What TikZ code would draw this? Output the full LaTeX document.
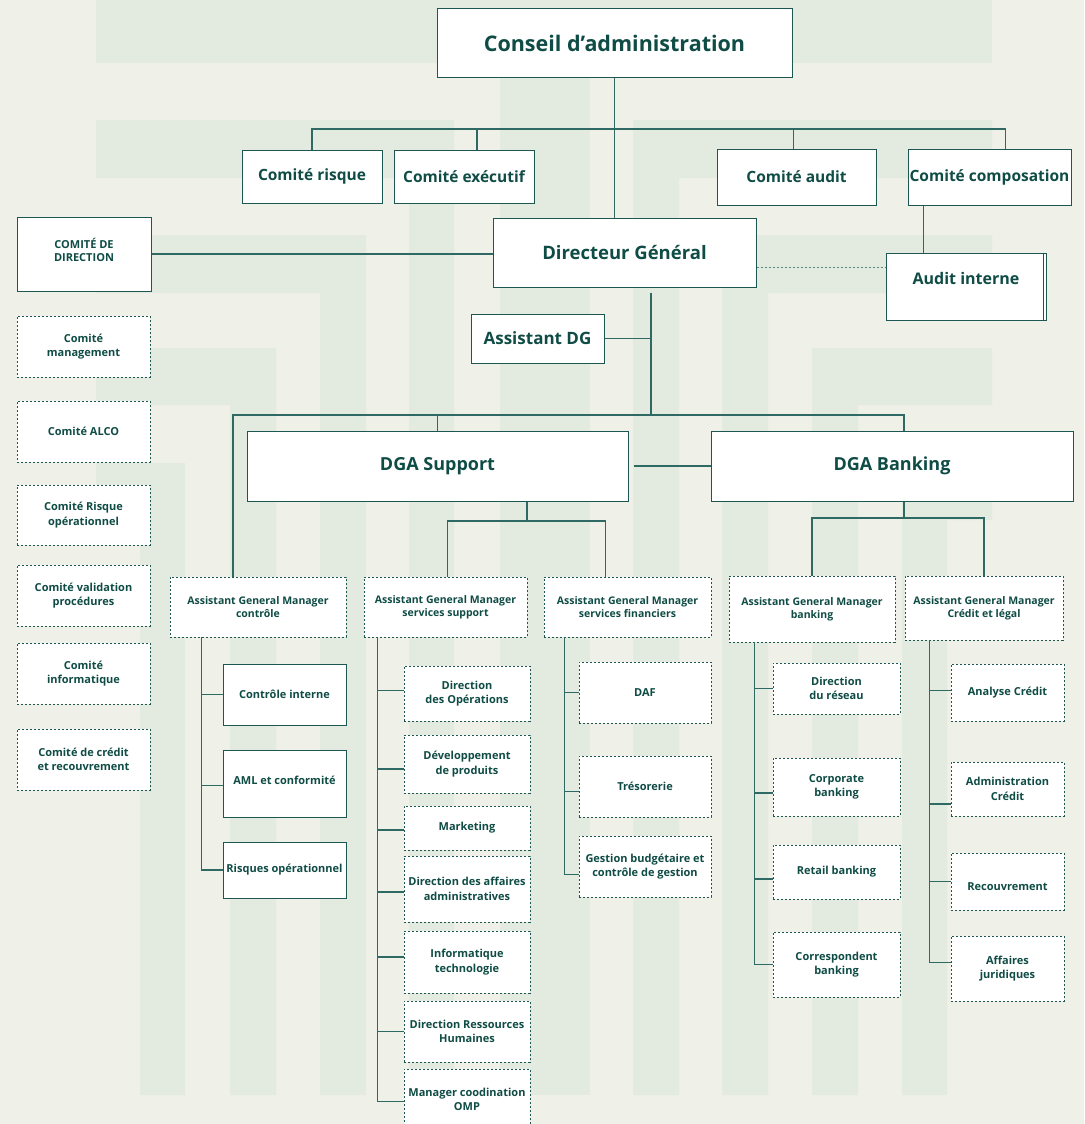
\documentclass[tikz,border=0pt]{standalone}
\usepackage{fontspec}
\setmainfont{Open Sans}
\definecolor{bgc}{HTML}{EFF0E8}
\definecolor{bandc}{HTML}{E3EAE0}
\definecolor{txtc}{HTML}{0F4C45}
\definecolor{boxc}{HTML}{1C5751}
\definecolor{linec}{HTML}{2E6A63}
\begin{document}
\begin{tikzpicture}[x=1pt,y=-1pt,
    box/.style={draw=boxc,fill=white,line width=1pt,align=center,text=txtc,inner sep=1pt},
    dbox/.style={box,dash pattern=on 2.4pt off 1.6pt,line width=0.9pt},
    link/.style={draw=linec,line width=1.1pt},
    fbig/.style={font=\bfseries\fontsize{21.5}{25}\selectfont},
    fmid/.style={font=\bfseries\fontsize{15.5}{18}\selectfont},
    fsmall/.style={font=\bfseries\fontsize{11}{14.5}\selectfont},
    ftiny/.style={font=\bfseries\fontsize{10.5}{13}\selectfont}]
  \useasboundingbox (0,0) rectangle (1084,1124);
  % fond et motif
  \fill[bgc] (0,0) rectangle (1084,1124);
  \fill[bandc] (96,0) rectangle (992,63);
  \fill[bandc] (500,63) rectangle (590,1095);
  \fill[bandc] (96,120) rectangle (454,178) (409,178) rectangle (454,1095);
  \fill[bandc] (96,235) rectangle (366,293) (320,293) rectangle (366,1095);
  \fill[bandc] (96,348) rectangle (276,405) (230,405) rectangle (276,1095);
  \fill[bandc] (96,463) rectangle (185,520) (140,520) rectangle (185,1095);
  \fill[bandc] (633,120) rectangle (992,178) (633,178) rectangle (679,1095);
  \fill[bandc] (722,235) rectangle (992,293) (722,293) rectangle (768,1095);
  \fill[bandc] (812,348) rectangle (992,405) (812,405) rectangle (858,1095);
  \fill[bandc] (902,463) rectangle (992,520) (902,520) rectangle (947,1095);

  % conseil et comites
  \node[box,fbig,minimum width=355pt,minimum height=68pt] (conseil) at (614.5,43) {Conseil d’administration};
  \node[box,fmid,minimum width=140pt,minimum height=53pt] (risque) at (312,176.5) {Comité risque};
  \node[box,fmid,minimum width=140pt,minimum height=53pt] (executif) at (464,176.5) {Comité exécutif};
  \node[box,fmid,minimum width=159pt,minimum height=56pt] (audit) at (796.5,177) {Comité audit};
  \node[box,fmid,minimum width=163pt,minimum height=56pt] (compo) at (989.5,177) {Comité composation};

  % direction generale
  \node[box,font=\bfseries\fontsize{18.5}{22}\selectfont,minimum width=263pt,minimum height=69pt] (directeur) at (624.5,252.5) {Directeur Général};
  \node[box,font=\bfseries\fontsize{11}{13}\selectfont,minimum width=134pt,minimum height=74pt,text depth=8pt] (codir) at (84,254) {COMITÉ DE\\DIRECTION};
  \node[box,font=\bfseries\fontsize{16}{19}\selectfont,minimum width=160pt,minimum height=67pt,text depth=16pt] (auditint) at (966,286.5) {Audit interne};
  \node[box,font=\bfseries\fontsize{17}{20}\selectfont,minimum width=133pt,minimum height=49pt] (adg) at (537.5,338.5) {Assistant DG};

  % comites de direction
  \node[dbox,fsmall,minimum width=133pt,minimum height=61pt] (cmgt) at (83.5,346.5) {Comité\\management};
  \node[dbox,fsmall,minimum width=133pt,minimum height=61pt] (calco) at (83.5,431.5) {Comité ALCO};
  \node[dbox,fsmall,minimum width=133pt,minimum height=60pt] (crop) at (83.5,515) {Comité Risque\\opérationnel};
  \node[dbox,fsmall,minimum width=133pt,minimum height=61pt] (cval) at (83.5,595.5) {Comité validation\\procédures};
  \node[dbox,fsmall,minimum width=133pt,minimum height=61pt] (cinfo) at (83.5,673.5) {Comité\\informatique};
  \node[dbox,fsmall,minimum width=133pt,minimum height=61pt] (ccred) at (83.5,759.5) {Comité de crédit\\et recouvrement};

  % DGA
  \node[box,font=\bfseries\fontsize{18}{21}\selectfont,minimum width=381pt,minimum height=70pt] (support) at (437.5,466) {DGA Support};
  \node[box,font=\bfseries\fontsize{18}{21}\selectfont,minimum width=362pt,minimum height=70pt] (banking) at (892,466) {DGA Banking};

  % assistants general manager
  \node[dbox,ftiny,minimum width=176pt,minimum height=60pt] (agmctl) at (258,607) {Assistant General Manager\\contrôle};
  \node[dbox,ftiny,minimum width=163pt,minimum height=60pt] (agmsup) at (445.5,607) {Assistant General Manager\\services support};
  \node[dbox,ftiny,minimum width=167pt,minimum height=60pt] (agmfin) at (627.5,607) {Assistant General Manager\\services financiers};
  \node[dbox,ftiny,minimum width=166pt,minimum height=66pt] (agmbank) at (812,609) {Assistant General Manager\\banking};
  \node[dbox,ftiny,minimum width=158pt,minimum height=64pt] (agmcred) at (984,608) {Assistant General Manager\\Crédit et légal};

  % controle
  \node[box,fsmall,minimum width=123pt,minimum height=61pt] (ctlint) at (284.5,694.5) {Contrôle interne};
  \node[box,fsmall,minimum width=123pt,minimum height=67pt,text depth=6pt] (aml) at (284.5,783.5) {AML et conformité};
  \node[box,fsmall,minimum width=123pt,minimum height=56pt] (risqop) at (284.5,870) {Risques opérationnel};

  % services support
  \node[dbox,fsmall,minimum width=126pt,minimum height=55pt] (dirop) at (467,693.5) {Direction\\des Opérations};
  \node[dbox,fsmall,minimum width=126pt,minimum height=58pt] (devprod) at (467,764) {Développement\\de produits};
  \node[dbox,fsmall,minimum width=126pt,minimum height=44pt] (mkt) at (467,828) {Marketing};
  \node[dbox,fsmall,minimum width=126pt,minimum height=66pt] (daa) at (467,889) {Direction des affaires\\administratives};
  \node[dbox,fsmall,minimum width=126pt,minimum height=62pt] (infotech) at (467,962) {Informatique\\technologie};
  \node[dbox,fsmall,minimum width=126pt,minimum height=61pt] (drh) at (467,1031.5) {Direction Ressources\\Humaines};
  \node[dbox,fsmall,minimum width=126pt,minimum height=65pt,text depth=4pt] (omp) at (467,1101.5) {Manager coodination\\OMP};

  % services financiers
  \node[dbox,fsmall,minimum width=132pt,minimum height=61pt] (daf) at (645,692.5) {DAF};
  \node[dbox,fsmall,minimum width=132pt,minimum height=61pt] (treso) at (645,786.5) {Trésorerie};
  \node[dbox,fsmall,minimum width=132pt,minimum height=61pt] (budget) at (645,866.5) {Gestion budgétaire et\\contrôle de gestion};

  % banking
  \node[dbox,fsmall,minimum width=127pt,minimum height=51pt] (reseau) at (836.5,688.5) {Direction\\du réseau};
  \node[dbox,fsmall,minimum width=127pt,minimum height=58pt] (corpo) at (836.5,787) {Corporate\\banking};
  \node[dbox,fsmall,minimum width=127pt,minimum height=54pt] (retail) at (836.5,872) {Retail banking};
  \node[dbox,fsmall,minimum width=127pt,minimum height=65pt] (corresp) at (836.5,964.5) {Correspondent\\banking};

  % credit et legal
  \node[dbox,fsmall,minimum width=113pt,minimum height=57pt] (analyse) at (1007.5,692.5) {Analyse Crédit};
  \node[dbox,fsmall,minimum width=113pt,minimum height=54pt] (admcred) at (1007.5,789) {Administration\\Crédit};
  \node[dbox,fsmall,minimum width=113pt,minimum height=57pt,text height=18pt] (recouv) at (1007.5,881.5) {Recouvrement};
  \node[dbox,fsmall,minimum width=113pt,minimum height=65pt] (affjur) at (1007.5,968.5) {Affaires\\juridiques};

  % liaisons du haut
  \coordinate (bushaut) at (614,129);
  \coordinate (busdg) at (651,415);
  \coordinate (bussup) at (527,521);
  \coordinate (busbank) at (904,518);
  \draw[link] (conseil.south) -- (conseil.south |- directeur.north);
  \draw[link] (risque.north) |- (bushaut) -| ([xshift=16pt]compo.north);
  \draw[link] ([xshift=13pt]executif.north) -- ([xshift=13pt]executif.north |- bushaut);
  \draw[link] ([xshift=-3pt]audit.north) -- ([xshift=-3pt]audit.north |- bushaut);
  \draw[link] ([xshift=16pt]compo.south west) -- ([xshift=16pt]compo.south west |- auditint.north);
  \draw[boxc,line width=1pt] ([xshift=-3pt]auditint.north east) -- ([xshift=-3pt]auditint.south east);
  \draw[link,line width=0.9pt,dash pattern=on 2pt off 2pt,draw=linec!80] ([yshift=-15pt]directeur.east) -- ([yshift=-15pt]directeur.east -| auditint.west);
  \draw[link] (codir.east) -- (codir.east -| directeur.west);
  \draw[link] ([yshift=-5pt]directeur.south -| busdg) -- (busdg);
  \draw[link] (adg.east) -- (adg.east -| busdg);
  \draw[link] ([xshift=-25pt]agmctl.north) |- (busdg) -| ([xshift=12pt]banking.north);
  \draw[link] (support.north) -- (support.north |- busdg);
  \draw[link] ([xshift=5pt]support.east) -- (banking.west);

  % liaisons des DGA
  \draw[link] (support.south -| bussup) -- (bussup);
  \draw[link] ([xshift=2pt]agmsup.north) |- (bussup) -| ([xshift=-22pt]agmfin.north);
  \draw[link] (banking.south -| busbank) -- (busbank);
  \draw[link] (agmbank.north) |- (busbank) -| (agmcred.north);

  % branches
  \draw[link] ([xshift=32pt]agmctl.south west) |- (ctlint.west);
  \draw[link] ([xshift=32pt]agmctl.south west) |- ([yshift=-2pt]aml.west);
  \draw[link] ([xshift=32pt]agmctl.south west) |- (risqop.west);
  \draw[link] ([xshift=14pt]agmsup.south west) |- ([yshift=3pt]dirop.west);
  \draw[link] ([xshift=14pt]agmsup.south west) |- ([yshift=-5pt]devprod.west);
  \draw[link] ([xshift=14pt]agmsup.south west) |- ([yshift=-2pt]mkt.west);
  \draw[link] ([xshift=14pt]agmsup.south west) |- ([yshift=-3pt]daa.west);
  \draw[link] ([xshift=14pt]agmsup.south west) |- ([yshift=5pt]infotech.west);
  \draw[link] ([xshift=14pt]agmsup.south west) |- (drh.west);
  \draw[link] ([xshift=14pt]agmsup.south west) |- (omp.west);
  \draw[link] ([xshift=21pt]agmfin.south west) |- (daf.west);
  \draw[link] ([xshift=21pt]agmfin.south west) |- ([yshift=-5pt]treso.west);
  \draw[link] ([xshift=21pt]agmfin.south west) |- ([yshift=-8pt]budget.west);
  \draw[link] ([xshift=26pt]agmbank.south west) |- (reseau.west);
  \draw[link] ([xshift=26pt]agmbank.south west) |- ([yshift=-6pt]corpo.west);
  \draw[link] ([xshift=26pt]agmbank.south west) |- ([yshift=-7pt]retail.west);
  \draw[link] ([xshift=26pt]agmbank.south west) |- (corresp.west);
  \draw[link] ([xshift=25pt]agmcred.south west) |- ([yshift=2pt]analyse.west);
  \draw[link] ([xshift=25pt]agmcred.south west) |- ([yshift=-15pt]admcred.west);
  \draw[link] ([xshift=25pt]agmcred.south west) |- (recouv.west);
  \draw[link] ([xshift=25pt]agmcred.south west) |- ([yshift=6pt]affjur.west);
\end{tikzpicture}
\end{document}
